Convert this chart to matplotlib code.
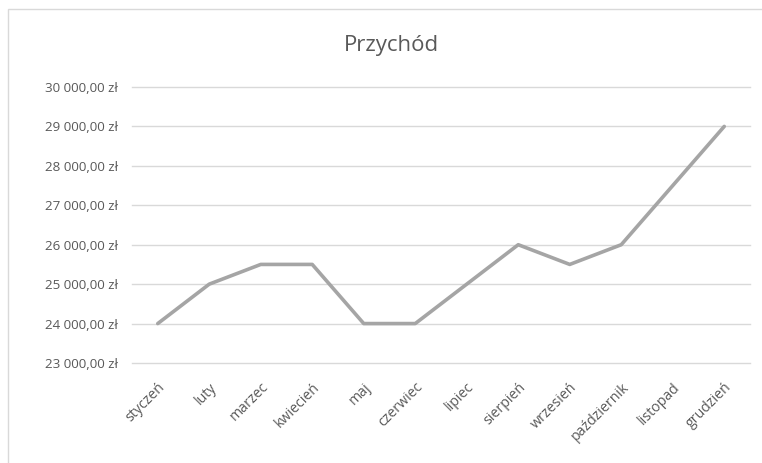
import matplotlib
matplotlib.use("Agg")
import matplotlib.pyplot as plt
from matplotlib.patches import Rectangle
from matplotlib.ticker import FuncFormatter

months = ["styczeń", "luty", "marzec", "kwiecień", "maj", "czerwiec",
          "lipiec", "sierpień", "wrzesień", "październik", "listopad", "grudzień"]
revenue = [24000, 25000, 25500, 25500, 24000, 24000,
           25000, 26000, 25500, 26000, 27500, 29000]
y_ticks = [23000, 24000, 25000, 26000, 27000, 28000, 29000, 30000]

TEXT = "#595959"
LINE = "#A5A5A5"
GRID = "#D9D9D9"
FONT = ["Open Sans", "DejaVu Sans"]

W, H = 762, 463
fig = plt.figure(figsize=(W / 100, H / 100), dpi=100)
fig.patch.set_facecolor("white")

# chart frame
fig.patches.append(Rectangle((8 / W, -0.1), 1.2, 1 - 9 / H + 0.1,
                             transform=fig.transFigure, fill=False,
                             edgecolor="#D9D9D9", linewidth=1.0))

left, right = 132 / W, 750 / W
bottom, top = 1 - 363 / H, 1 - 87 / H
ax = fig.add_axes([left, bottom, right - left, top - bottom])

x = list(range(len(months)))
ax.plot(x, revenue, color=LINE, linewidth=2.6, solid_joinstyle="round",
        solid_capstyle="round", zorder=3)

ax.set_xlim(-0.5, len(months) - 0.5)
ax.set_ylim(y_ticks[0], y_ticks[-1])
ax.set_yticks(y_ticks)
ax.yaxis.set_major_formatter(FuncFormatter(
    lambda v, p: f"{int(v):,}".replace(",", " ") + ",00 zł"))
ax.set_xticks(x)
ax.set_xticklabels(months, rotation=45, ha="right", rotation_mode="anchor")

ax.grid(axis="y", color=GRID, linewidth=1.0, zorder=0)
ax.set_axisbelow(True)
for t in ax.yaxis.get_major_ticks():
    t.gridline.set_clip_on(False)
for s in ax.spines.values():
    s.set_visible(False)
ax.tick_params(axis="both", length=0, colors=TEXT)
ax.tick_params(axis="y", pad=10, labelsize=9.6)
ax.tick_params(axis="x", pad=12, labelsize=10.2)
for lbl in ax.get_xticklabels() + ax.get_yticklabels():
    lbl.set_family(FONT)

fig.text(391 / W, 1 - 45 / H, "Przychód", ha="center", va="center",
         fontsize=16, color=TEXT, family=FONT)

fig.savefig("out.png", dpi=100, facecolor="white")
